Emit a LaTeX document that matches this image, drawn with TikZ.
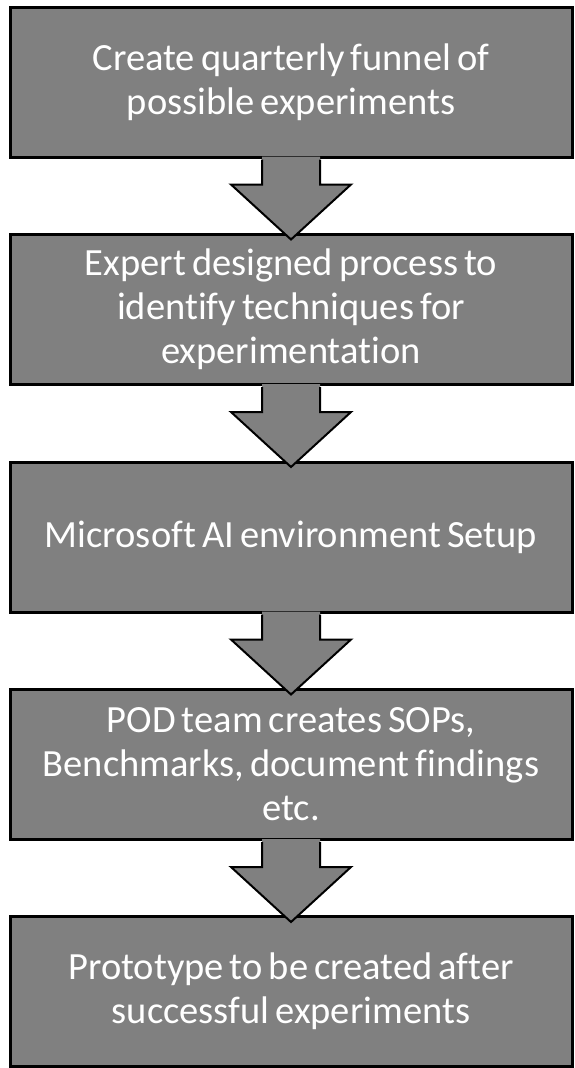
\documentclass[tikz,border=0pt]{standalone}
\usepackage{fontspec}
\setmainfont{Carlito}[Ligatures={NoCommon}, WordSpace={0.7,0,0}]
\usetikzlibrary{calc}
\definecolor{boxgray}{HTML}{808080}
\tikzset{
  stepbox/.style={draw=black, line width=3pt, fill=boxgray, rectangle,
    minimum width=562pt, minimum height=150pt, inner sep=0pt,
    text=white, align=center,
    font=\fontsize{38.5pt}{44pt}\selectfont},
  arrowfill/.style={fill=boxgray, draw=none},
  arrowline/.style={draw=black, line width=2pt, line join=miter}
}
\newcommand{\downarrowshape}[2]{%
  \fill[arrowfill] ($(#1.south)+(-29pt,2pt)$) -- ++(0,-28pt) -- ++(-31pt,0) -- ($(#1.south)+(0,-81pt)$) -- ($(#1.south)+(60pt,-26pt)$) -- ++(-31pt,0) -- ++(0,28pt) -- cycle;
  \draw[arrowline] ($(#1.south)+(-29pt,-1pt)$) -- ++(0,-25pt) -- ++(-31pt,0) -- ($(#1.south)+(0,-81pt)$) -- ($(#1.south)+(60pt,-26pt)$) -- ++(-31pt,0) -- ++(0,25pt);
}
\begin{document}
\begin{tikzpicture}[x=1pt,y=1pt]
\useasboundingbox (0,0) rectangle (575,-1068);
\node[stepbox] (b1) at (291,-82) {Create quarterly funnel of\\possible experiments};
\node[stepbox] (b2) at (291,-309.5) {Expert designed process to\\identify techniques for\\experimentation};
\node[stepbox] (b3) at (291,-537) {Microsoft AI environment Setup};
\node[stepbox] (b4) at (291,-764.5) {POD team creates SOPs,\\Benchmarks, document findings\\etc.};
\node[stepbox] (b5) at (291,-991.5) {Prototype to be created after\\successful experiments};
\downarrowshape{b1}{b2}
\downarrowshape{b2}{b3}
\downarrowshape{b3}{b4}
\downarrowshape{b4}{b5}
\end{tikzpicture}
\end{document}
